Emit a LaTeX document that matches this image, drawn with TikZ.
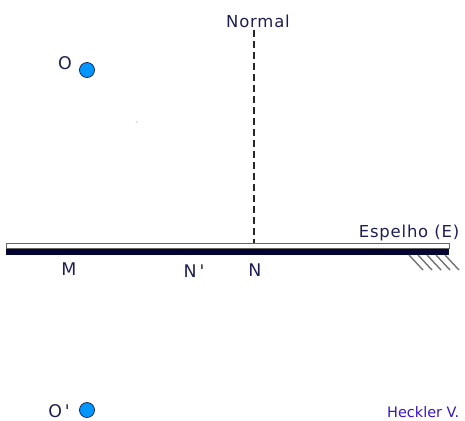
\documentclass[tikz,border=0pt]{standalone}
\usepackage{fontspec}
\setmainfont{DejaVu Sans}
\definecolor{txt}{RGB}{30,30,80}
\definecolor{navy}{RGB}{5,5,50}
\definecolor{ptblue}{RGB}{0,150,255}
\definecolor{ptline}{RGB}{20,40,90}
\definecolor{author}{RGB}{60,20,190}
\begin{document}
\begin{tikzpicture}[x=1bp,y=-1bp,
  lbl/.style={inner sep=0pt, anchor=base, text=txt,
    font=\fontsize{16.5}{16.5}\selectfont\addfontfeature{LetterSpace=5}},
  ptlbl/.style={inner sep=0pt, anchor=base, text=txt,
    font=\fontsize{17.5}{17.5}\selectfont},
  pt/.style={circle, fill=ptblue, draw=ptline, line width=0.8bp, minimum size=15bp, inner sep=0pt},
  hatch/.style={draw=gray!90!black, line width=1.4bp},
  normalline/.style={draw=black!85, line width=1.1bp, dash pattern=on 7bp off 4bp}
]
\useasboundingbox (0,0) rectangle (465,420);
% mirror
\fill[navy] (6,248) rectangle (449,255);
\draw[gray!80!black, fill=white, line width=0.9bp] (6,243) rectangle (449,248);
\foreach \k in {0,...,4} {
  \draw[hatch] ({409+9*\k},255) -- ({423+9*\k},270);
}
% labels
\node[lbl] (normal) at (258,27) {Normal};
\coordinate (foot) at (254,243);
\coordinate (top) at (254,30);
\draw[normalline] (top) -- (foot);
\node[lbl] (espelho) at (409,237) {Espelho (E)};
\node[ptlbl] (M) at (69,275) {M};
\node[ptlbl] (Np) at (194,277) {N\,\textquotesingle};
\node[ptlbl] (N) at (255,276) {N};
% points
\node[pt] (O) at (87,70) {};
\node[ptlbl] (Olbl) at (65,69) {O};
\node[pt] (Op) at (87,410) {};
\node[ptlbl] (Oplbl) at (59,417) {O\,\textquotesingle};
\fill[ptblue!40] (137,122) circle (0.8);
\node[inner sep=0pt, anchor=base west, text=author, font=\fontsize{14.5}{14.5}\selectfont] (auth) at (387,417) {Heckler V.};
\end{tikzpicture}
\end{document}
